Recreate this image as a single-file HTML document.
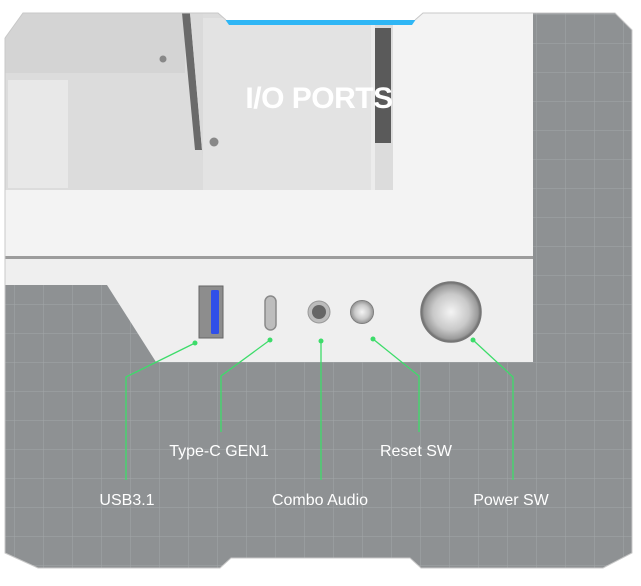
<!DOCTYPE html>
<html><head><meta charset="utf-8"><style>
html,body{margin:0;padding:0;background:#fff;width:641px;height:586px;overflow:hidden}
svg{display:block}
text{font-family:"Liberation Sans",sans-serif;fill:#fff}
</style></head><body>
<svg width="641" height="586" viewBox="0 0 641 586" xmlns="http://www.w3.org/2000/svg">
<defs>
<pattern id="grid" x="14" y="14" width="29" height="29" patternUnits="userSpaceOnUse">
<rect width="29" height="29" fill="#8e9193"/>
<path d="M0 0H29M0 0V29" stroke="#a3a6a8" stroke-width="1"/>
</pattern>
<clipPath id="frame"><path d="M5,38 L23,13 L218,13 L226,20 L415,20 L423,13 L615,13 L632,30 L632,553 L603,568 L421,568 L410,558 L231,558 L220,568 L38,568 L5,553 Z"/></clipPath>
<radialGradient id="metal" cx="50%" cy="50%" r="50%">
<stop offset="0" stop-color="#f4f4f4"/><stop offset="0.6" stop-color="#c9c9c9"/><stop offset="0.9" stop-color="#9a9a9a"/><stop offset="1" stop-color="#666"/>
</radialGradient>
</defs>
<g clip-path="url(#frame)">
<rect width="641" height="586" fill="url(#grid)"/>
<!-- upper photo -->
<rect x="5" y="13" width="528" height="245" fill="#f3f3f3"/>
<rect x="5" y="13" width="388" height="177" fill="#dcdcdc"/>
<rect x="5" y="13" width="180" height="60" fill="#d4d4d4"/>
<rect x="8" y="80" width="60" height="108" fill="#e8e8e8"/>
<polygon points="182,13 190,13 202,150 195,150" fill="#6a6a6a"/>
<polygon points="190,13 203,13 203,190 205,190 202,150" fill="#dadada"/>
<rect x="203" y="18" width="168" height="172" fill="#e3e3e3"/>
<rect x="375" y="28" width="16" height="115" fill="#5a5a5a"/>
<rect x="371" y="18" width="4" height="172" fill="#ececec"/>
<circle cx="163" cy="59" r="3.5" fill="#888"/>
<circle cx="214" cy="142" r="4.5" fill="#888"/>
<rect x="5" y="256" width="528" height="3" fill="#9c9c9c"/>
<!-- lower panel -->
<rect x="5" y="259" width="528" height="103" fill="#efefef"/>
<polygon points="5,285 107,285 156,362 5,362" fill="url(#grid)"/>
<!-- ports -->
<rect x="199" y="286" width="24" height="52" fill="#8d8d8d" stroke="#666" stroke-width="1"/>
<rect x="211" y="290" width="8" height="44" rx="1.5" fill="#2f4fe8"/>
<rect x="265" y="296" width="11" height="34" rx="5.5" fill="#bdbdbd" stroke="#8a8a8a" stroke-width="1.5"/>
<circle cx="319" cy="312" r="11" fill="#bcbcbc" stroke="#999" stroke-width="1"/>
<circle cx="319" cy="312" r="7" fill="#666"/>
<circle cx="362" cy="312" r="12" fill="url(#metal)"/>
<circle cx="451" cy="312" r="30" fill="url(#metal)" stroke="#777" stroke-width="1.5"/>
<!-- blue bar -->
<polygon points="222,15 419,15 412,25 229,25" fill="#2fb6f5"/>
</g>
<path d="M5,38 L23,13 L218,13 L226,20 M415,20 L423,13 L615,13 L632,30 L632,553 L603,568 L421,568 L410,558 L231,558 L220,568 L38,568 L5,553 L5,38" fill="none" stroke="#c8c8c8" stroke-width="1"/>
<text x="319" y="108" font-size="30" font-weight="bold" text-anchor="middle" letter-spacing="-0.5">I/O PORTS</text>
<!-- leaders -->
<g stroke="#3ddc6a" stroke-width="1.3" fill="none">
<polyline points="195,343 126,377 126,480"/>
<polyline points="270,340 221,376 221,432"/>
<polyline points="321,341 321,480"/>
<polyline points="373,339 419,376 419,432"/>
<polyline points="473,340 513,377 513,480"/>
</g>
<g fill="#3ddc6a">
<circle cx="195" cy="343" r="2.5"/><circle cx="270" cy="340" r="2.5"/><circle cx="321" cy="341" r="2.5"/><circle cx="373" cy="339" r="2.5"/><circle cx="473" cy="340" r="2.5"/>
</g>
<g font-size="16" text-anchor="middle">
<text x="219" y="456">Type-C GEN1</text>
<text x="416" y="456">Reset SW</text>
<text x="127" y="505">USB3.1</text>
<text x="320" y="505">Combo Audio</text>
<text x="511" y="505">Power SW</text>
</g>
</svg>
</body></html>
